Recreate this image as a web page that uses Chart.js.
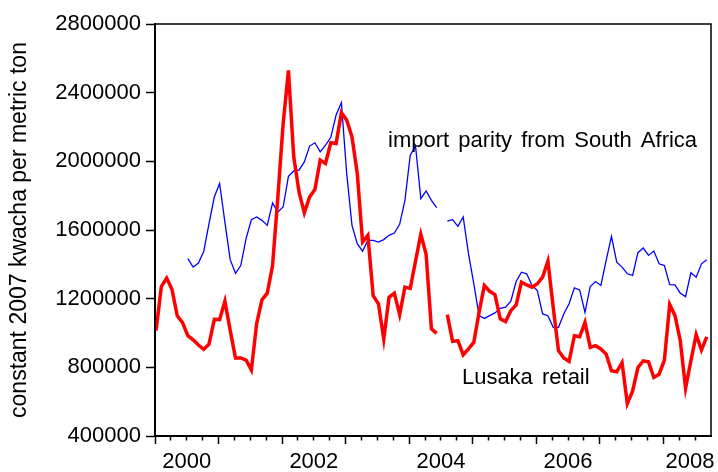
<!DOCTYPE html>
<html>
<head>
<meta charset="utf-8">
<script src="https://cdn.jsdelivr.net/npm/chart.js@4.4.1/dist/chart.umd.min.js"></script>
<style>
  html, body { margin: 0; padding: 0; background: #fff; }
</style>
</head>
<body>
<canvas id="chart" width="718" height="472"></canvas>
<script>
// monthly observations, 2000M01 .. 2008M09
const startYear = 2000;

const lusakaRetail = [
  1015000, 1270000, 1320000, 1255000, 1100000, 1060000, 985000, 960000, 930000, 905000, 935000, 1080000,
  1078000, 1185000, 1015000, 855000, 855000, 842000, 785000, 1055000, 1193000, 1232000, 1393000, 1792000,
  2220000, 2530000, 2026000, 1822000, 1700000, 1792000, 1836000, 2007000, 1988000, 2108000, 2104000, 2283000,
  2240000, 2143000, 1929000, 1530000, 1569000, 1218000, 1170000, 965000, 1208000, 1232000, 1107000, 1267000,
  1260000, 1419000, 1575000, 1458000, 1024000, 998000, null, 1107000, 951000, 955000, 872000, 907000,
  945000, 1120000, 1277000, 1243000, 1224000, 1082000, 1066000, 1130000, 1164000, 1296000, 1280000, 1267000,
  1287000, 1325000, 1419000, 1150000, 897000, 854000, 834000, 984000, 978000, 1062000, 916000, 926000,
  907000, 877000, 780000, 774000, 828000, 589000, 663000, 799000, 838000, 832000, 741000, 760000,
  842000, 1166000, 1101000, 955000, 679000, 838000, 990000, 901000, 978000
];

const importParity = [
  null, null, null, null, null, null, 1433000, 1384000, 1407000, 1475000, 1637000, 1792000,
  1871000, 1646000, 1427000, 1348000, 1393000, 1550000, 1660000, 1676000, 1656000, 1627000, 1757000, 1705000,
  1734000, 1913000, 1944000, 1949000, 1997000, 2089000, 2108000, 2055000, 2095000, 2140000, 2270000, 2342000,
  1930000, 1627000, 1520000, 1477000, 1540000, 1540000, 1530000, 1544000, 1569000, 1582000, 1633000, 1773000,
  2036000, 2089000, 1783000, 1828000, 1773000, 1731000, null, 1651000, 1660000, 1621000, 1676000, 1462000,
  1287000, 1101000, 1085000, 1101000, 1117000, 1144000, 1150000, 1185000, 1300000, 1354000, 1345000, 1277000,
  1247000, 1111000, 1101000, 1033000, 1033000, 1111000, 1170000, 1263000, 1251000, 1120000, 1271000, 1300000,
  1277000, 1423000, 1563000, 1413000, 1384000, 1345000, 1335000, 1468000, 1495000, 1452000, 1477000, 1403000,
  1393000, 1282000, 1280000, 1232000, 1212000, 1351000, 1325000, 1403000, 1427000
];

const yTicks = [400000, 800000, 1200000, 1600000, 2000000, 2400000, 2800000];
const xTickLabels = ["2000", "2002", "2004", "2006", "2008"];
const yTitle = "constant 2007 kwacha per metric ton";

const seriesNotes = [
  { text: "import parity from South Africa", x: 2003.667, y: 2083000 },
  { text: "Lusaka retail", x: 2004.83, y: 702000 }
];

const FONT = "'Liberation Sans', Arial, sans-serif";
const xMin = 2000, xMax = 2008.75;
const labelPos = [2000.5, 2002.5, 2004.5, 2006.5, 2008.42];

function toPoints(values) {
  return values.map((v, i) => ({ x: startYear + (i + 0.2) / 12, y: v }));
}

const yearTicks = [];
const quarterTicks = [];
for (let y = 2000; y <= 2008; y++) {
  yearTicks.push(y);
  for (let q = 1; q < 4; q++) {
    if (y + q / 4 < xMax) quarterTicks.push(y + q / 4);
  }
}

// box round the plot + the two series notes
const framePlugin = {
  id: "frame",
  afterDatasetsDraw(chart) {
    const { ctx, chartArea: a, scales } = chart;
    ctx.save();
    ctx.strokeStyle = "#000";
    ctx.lineWidth = 1.5;
    ctx.strokeRect(a.left, a.top, a.right - a.left, a.bottom - a.top);

    ctx.fillStyle = "#000";
    ctx.font = "22px " + FONT;
    ctx.textAlign = "left";
    ctx.textBaseline = "alphabetic";
    ctx.wordSpacing = "3px";
    seriesNotes.forEach(n => {
      ctx.fillText(n.text, scales.x.getPixelForValue(n.x), scales.y.getPixelForValue(n.y));
    });
    ctx.restore();
  }
};

const tickFont = { family: FONT, size: 22 };

new Chart(document.getElementById("chart"), {
  type: "line",
  data: {
    datasets: [
      {
        label: "Lusaka retail",
        data: toPoints(lusakaRetail),
        borderColor: "#ff0000",
        borderWidth: 3.5,
        xAxisID: "x",
        spanGaps: false
      },
      {
        label: "import parity from South Africa",
        data: toPoints(importParity),
        borderColor: "#0000ff",
        borderWidth: 1.3,
        xAxisID: "x",
        spanGaps: false
      }
    ]
  },
  options: {
    responsive: false,
    animation: false,
    layout: { padding: { top: 24, right: 7, left: 0, bottom: 0 } },
    plugins: { legend: { display: false }, tooltip: { enabled: false } },
    elements: { point: { radius: 0 }, line: { tension: 0 } },
    scales: {
      x: {
        type: "linear",
        position: "bottom",
        min: xMin,
        max: xMax,
        afterBuildTicks: s => { s.ticks = labelPos.map(v => ({ value: v })); },
        afterFit: s => { s.height = 36; s.paddingLeft = 0; s.paddingRight = 0; },
        grid: { drawOnChartArea: false, tickLength: 8, tickColor: "rgba(0,0,0,0)" },
        border: { display: true, color: "#000", width: 2 },
        ticks: {
          autoSkip: false,
          maxRotation: 0,
          padding: 5,
          color: "#000",
          font: tickFont,
          callback: (v, i) => xTickLabels[i]
        }
      },
      xYear: {
        type: "linear",
        axis: "x",
        position: { y: 400000 },
        min: xMin,
        max: xMax,
        afterBuildTicks: s => { s.ticks = yearTicks.map(v => ({ value: v })); },
        afterFit: s => { s.height = 0; s.paddingLeft = 0; s.paddingRight = 0; },
        grid: { drawOnChartArea: false, tickLength: 8, tickColor: "#000", tickWidth: 1.5 },
        border: { display: false },
        ticks: { display: false }
      },
      xQuarter: {
        type: "linear",
        axis: "x",
        position: { y: 400000 },
        min: xMin,
        max: xMax,
        afterBuildTicks: s => { s.ticks = quarterTicks.map(v => ({ value: v })); },
        afterFit: s => { s.height = 0; s.paddingLeft = 0; s.paddingRight = 0; },
        grid: { drawOnChartArea: false, tickLength: 4.5, tickColor: "#000", tickWidth: 1.5 },
        border: { display: false },
        ticks: { display: false }
      },
      y: {
        min: 400000,
        max: 2800000,
        afterBuildTicks: s => { s.ticks = yTicks.map(v => ({ value: v })); },
        afterFit: s => { s.width = 155; },
        grid: { drawOnChartArea: false, tickLength: 9, tickColor: "#000", tickWidth: 1.5 },
        border: { color: "#000", width: 2 },
        ticks: { padding: 5, color: "#000", font: tickFont, callback: v => String(v) },
        title: {
          display: true,
          text: yTitle,
          color: "#000",
          font: { family: FONT, size: 23 },
          padding: { top: 6, bottom: 0 }
        }
      }
    }
  },
  plugins: [framePlugin]
});
</script>
</body>
</html>
